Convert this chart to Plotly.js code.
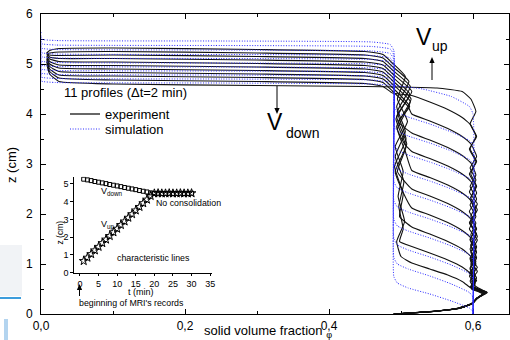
<!DOCTYPE html>
<html><head><meta charset="utf-8">
<script src="https://cdn.plot.ly/plotly-3.0.1.min.js"></script>
<style>html,body{margin:0;padding:0;background:#fff}#c{width:510px;height:340px}</style>
</head><body><div id="c"></div>
<script>
// ---- experimental profiles (phi, z) ----
const expPhi0=[0.008,0.012,0.025,0.10,0.30,0.45,0.475,0.488,0.506,0.495,0.509,0.492,0.503,0.496,0.505,0.494,0.500,0.515,0.54,0.565,0.585,0.597,0.613,0.604,0.598,0.58,0.54,0.49];
const expZ0  =[5.22,5.27,5.31,5.32,5.29,5.25,5.19,5.02,4.75,4.30,3.85,3.35,2.85,2.35,1.85,1.45,1.15,1.02,0.90,0.78,0.65,0.52,0.40,0.29,0.20,0.11,0.05,0.0];
const expPhi1=[0.008,0.012,0.025,0.10,0.30,0.45,0.475,0.488,0.511,0.494,0.506,0.492,0.504,0.497,0.503,0.498,0.515,0.54,0.565,0.585,0.597,0.604,0.596,0.617,0.605,0.599,0.58,0.545,0.49];
const expZ1  =[5.21,5.22,5.24,5.25,5.22,5.18,5.12,4.95,4.65,4.15,3.65,3.15,2.65,2.15,1.70,1.45,1.35,1.22,1.08,0.94,0.80,0.66,0.54,0.43,0.31,0.21,0.12,0.05,0.0];
const expPhi2=[0.008,0.012,0.025,0.10,0.30,0.45,0.475,0.488,0.513,0.495,0.507,0.491,0.503,0.498,0.515,0.54,0.565,0.585,0.597,0.603,0.595,0.605,0.597,0.619,0.606,0.6,0.582,0.545,0.49];
const expZ2  =[5.20,5.18,5.17,5.18,5.15,5.11,5.05,4.88,4.55,4.05,3.50,2.95,2.40,1.95,1.74,1.60,1.45,1.30,1.15,0.98,0.82,0.67,0.54,0.44,0.32,0.22,0.12,0.05,0.0];
const expPhi3=[0.008,0.012,0.025,0.10,0.30,0.45,0.475,0.488,0.515,0.494,0.508,0.492,0.504,0.515,0.54,0.565,0.585,0.597,0.604,0.596,0.606,0.595,0.603,0.598,0.614,0.604,0.598,0.58,0.54,0.49];
const expZ3  =[5.23,5.14,5.11,5.11,5.08,5.04,4.98,4.81,4.45,3.95,3.40,2.85,2.40,2.12,1.98,1.83,1.67,1.52,1.32,1.12,0.93,0.76,0.60,0.50,0.41,0.30,0.21,0.11,0.05,0.0];
const expPhi4=[0.008,0.012,0.025,0.10,0.30,0.45,0.475,0.488,0.512,0.493,0.507,0.495,0.515,0.54,0.565,0.585,0.597,0.605,0.596,0.604,0.597,0.606,0.596,0.602,0.616,0.605,0.599,0.581,0.543,0.49];
const expZ4  =[5.19,5.10,5.05,5.04,5.01,4.97,4.91,4.74,4.40,3.90,3.35,2.85,2.50,2.36,2.21,2.05,1.90,1.70,1.50,1.28,1.05,0.85,0.66,0.52,0.42,0.31,0.21,0.12,0.05,0.0];
const expPhi5=[0.008,0.012,0.025,0.10,0.30,0.45,0.475,0.488,0.514,0.494,0.506,0.515,0.54,0.565,0.585,0.597,0.604,0.595,0.605,0.597,0.604,0.596,0.605,0.598,0.62,0.606,0.6,0.582,0.546,0.49];
const expZ5  =[5.16,5.05,4.98,4.97,4.94,4.90,4.84,4.67,4.30,3.75,3.25,2.87,2.73,2.58,2.42,2.27,2.05,1.82,1.60,1.38,1.15,0.92,0.72,0.55,0.43,0.32,0.22,0.12,0.05,0.0];
const expPhi6=[0.008,0.012,0.025,0.10,0.30,0.45,0.475,0.488,0.513,0.495,0.505,0.515,0.54,0.565,0.585,0.597,0.605,0.596,0.604,0.595,0.606,0.597,0.604,0.596,0.603,0.598,0.615,0.605,0.599,0.58,0.542,0.49];
const expZ6  =[5.13,5.00,4.92,4.90,4.87,4.83,4.77,4.60,4.25,3.70,3.40,3.25,3.11,2.96,2.80,2.65,2.42,2.18,1.95,1.70,1.48,1.24,1.00,0.80,0.62,0.52,0.41,0.30,0.21,0.11,0.05,0.0];
const expPhi7=[0.008,0.012,0.025,0.10,0.30,0.45,0.475,0.488,0.512,0.496,0.515,0.54,0.565,0.585,0.597,0.604,0.596,0.605,0.595,0.604,0.597,0.605,0.596,0.603,0.597,0.604,0.618,0.606,0.6,0.582,0.545,0.49];
const expZ7  =[5.10,4.95,4.85,4.83,4.80,4.76,4.70,4.53,4.15,3.85,3.62,3.48,3.33,3.17,3.02,2.78,2.55,2.30,2.05,1.82,1.58,1.34,1.10,0.88,0.68,0.55,0.43,0.32,0.22,0.12,0.05,0.0];
const expPhi8=[0.008,0.012,0.025,0.10,0.30,0.45,0.475,0.488,0.51,0.515,0.54,0.565,0.585,0.597,0.605,0.596,0.604,0.595,0.606,0.597,0.604,0.596,0.605,0.597,0.603,0.598,0.616,0.605,0.599,0.581,0.544,0.49];
const expZ8  =[5.07,4.90,4.78,4.76,4.73,4.69,4.63,4.46,4.15,4.00,3.86,3.71,3.55,3.40,3.15,2.92,2.68,2.44,2.20,1.96,1.72,1.48,1.24,1.00,0.78,0.58,0.42,0.31,0.21,0.12,0.05,0.0];
const expPhi9=[0.008,0.012,0.025,0.10,0.30,0.45,0.475,0.488,0.515,0.54,0.565,0.585,0.597,0.604,0.596,0.605,0.595,0.604,0.597,0.606,0.596,0.604,0.597,0.605,0.596,0.603,0.598,0.619,0.606,0.6,0.582,0.545,0.49];
const expZ9  =[5.04,4.85,4.72,4.68,4.65,4.61,4.55,4.42,4.37,4.24,4.09,3.93,3.78,3.55,3.30,3.05,2.80,2.56,2.32,2.08,1.84,1.60,1.36,1.12,0.90,0.70,0.55,0.43,0.32,0.22,0.12,0.05,0.0];
const expPhi10=[0.008,0.012,0.025,0.10,0.30,0.45,0.50,0.55,0.585,0.597,0.604,0.596,0.605,0.595,0.604,0.597,0.605,0.596,0.604,0.597,0.606,0.596,0.604,0.597,0.603,0.598,0.615,0.605,0.599,0.58,0.543,0.49];
const expZ10  =[5.00,4.80,4.65,4.60,4.57,4.55,4.54,4.52,4.45,4.30,4.05,3.80,3.55,3.30,3.05,2.80,2.55,2.30,2.05,1.80,1.55,1.30,1.05,0.82,0.65,0.53,0.42,0.31,0.21,0.11,0.05,0.0];

// ---- simulated profiles (phi, z) ----
const simPhi=[0,0,0.02,0.25,0.46,0.485,0.49,0.49,0.495,0.51,0.54,0.57,0.595,0.6,0.6];
const simZ0=[5.64,5.50,5.47,5.46,5.44,5.39,5.27,0.75,0.62,0.52,0.40,0.26,0.12,0.05,0];
const simZ1=[5.55,5.41,5.38,5.37,5.35,5.30,5.18,1.13,1.00,0.90,0.76,0.60,0.43,0.33,0];
const simZ2=[5.46,5.32,5.29,5.28,5.26,5.21,5.09,1.51,1.38,1.28,1.14,0.98,0.81,0.71,0];
const simZ3=[5.37,5.23,5.20,5.19,5.17,5.12,5.00,1.89,1.76,1.66,1.52,1.36,1.19,1.09,0];
const simZ4=[5.29,5.15,5.12,5.11,5.09,5.04,4.92,2.27,2.14,2.04,1.90,1.74,1.57,1.47,0];
const simZ5=[5.20,5.06,5.03,5.02,5.00,4.95,4.83,2.65,2.52,2.42,2.28,2.12,1.95,1.85,0];
const simZ6=[5.12,4.98,4.95,4.94,4.92,4.87,4.75,3.03,2.90,2.80,2.66,2.50,2.33,2.23,0];
const simZ7=[5.04,4.90,4.87,4.86,4.84,4.79,4.67,3.41,3.28,3.18,3.04,2.88,2.71,2.61,0];
const simZ8=[4.96,4.82,4.79,4.78,4.76,4.71,4.59,3.79,3.66,3.56,3.42,3.26,3.09,2.99,0];
const simZ9=[4.88,4.74,4.71,4.70,4.68,4.63,4.51,4.17,4.04,3.94,3.80,3.64,3.47,3.37,0];
const simPhi10=[0,0,0.02,0.25,0.46,0.49,0.53,0.57,0.595,0.6,0.6];
const simZ10=[4.80,4.66,4.63,4.62,4.60,4.57,4.50,4.35,4.15,4.0,0];

// ---- inset: characteristic lines ----
const tMin=[1,2,3,4,5,6,7,8,9,10,11,12,13,14,15,16,17,18,19,20,21,22,23,24,25,26,27,28,29,30];
const zDown=[5.27,5.23,5.19,5.14,5.10,5.06,5.02,4.97,4.93,4.89,4.85,4.80,4.76,4.72,4.68,4.63,4.59,4.55,4.50,4.47,4.48,4.47,4.47,4.48,4.47,4.47,4.48,4.47,4.47,4.48];
const zUp=[0.66,0.85,1.05,1.26,1.46,1.67,1.87,2.07,2.28,2.48,2.69,2.89,3.10,3.30,3.51,3.71,3.92,4.12,4.33,4.47,4.48,4.47,4.47,4.48,4.47,4.47,4.48,4.47,4.47,4.48];

const mainXTicks=[0,0.2,0.4,0.6], mainXMinor=[0.1,0.3,0.5];
const mainYTicks=[0,1,2,3,4,5,6], mainYMinor=[0.5,1.5,2.5,3.5,4.5,5.5];
const insetXTicks=[0,5,10,15,20,25,30,35], insetYTicks=[0,1,2,3,4,5];

const expPhis=[expPhi0,expPhi1,expPhi2,expPhi3,expPhi4,expPhi5,expPhi6,expPhi7,expPhi8,expPhi9,expPhi10];
const expZs=[expZ0,expZ1,expZ2,expZ3,expZ4,expZ5,expZ6,expZ7,expZ8,expZ9,expZ10];
const simPhis=[simPhi,simPhi,simPhi,simPhi,simPhi,simPhi,simPhi,simPhi,simPhi,simPhi,simPhi10];
const simZs=[simZ0,simZ1,simZ2,simZ3,simZ4,simZ5,simZ6,simZ7,simZ8,simZ9,simZ10];

const traces=[];
for(let i=0;i<expPhis.length;i++){
  traces.push({x:expPhis[i],y:expZs[i],type:'scatter',mode:'lines',line:{color:'#111',width:1.1,shape:'spline',smoothing:0.4},hoverinfo:'skip'});
}
for(let i=0;i<simPhis.length;i++){
  traces.push({x:simPhis[i],y:simZs[i],type:'scatter',mode:'lines',line:{color:'#2a2aff',width:1,dash:'1px,1.6px',shape:'spline',smoothing:0.4},hoverinfo:'skip'});
}
traces.push({x:tMin,y:zDown,xaxis:'x2',yaxis:'y2',type:'scatter',mode:'markers',marker:{symbol:'square-open',size:4,color:'#000',line:{width:1}},hoverinfo:'skip'});
traces.push({x:tMin,y:zUp,xaxis:'x2',yaxis:'y2',type:'scatter',mode:'markers',marker:{symbol:'star-open',size:6.5,color:'#000',line:{width:1}},hoverinfo:'skip'});

const L=41,T=14,W=468,H=300;
const px=x=>(x-L)/W, py=y=>(T+H-y)/H;
const FONT='Liberation Sans, Arial, sans-serif';
function txt(s,x,y,size,opt){return Object.assign({text:s,x:px(x),y:py(y),xref:'paper',yref:'paper',showarrow:false,font:{size:size,color:'#000',family:FONT},xanchor:'center',yanchor:'middle'},opt||{});}
// arrow drawn as a shaft + a small filled head (decoration)
function arrowShapes(x,yHead,yTail){
  const dir=yTail>yHead?1:-1, hl=6, hw=2.6;
  return [
    {type:'line',xref:'paper',yref:'paper',x0:px(x),x1:px(x),y0:py(yTail),y1:py(yHead+dir*hl*0.6),line:{color:'#000',width:1}},
    {type:'path',xref:'paper',yref:'paper',path:'M '+px(x)+' '+py(yHead)+' L '+px(x-hw)+' '+py(yHead+dir*hl)+' L '+px(x+hw)+' '+py(yHead+dir*hl)+' Z',fillcolor:'#000',line:{width:0}}
  ];
}

const annotations=[
  txt('11 profiles (Δt=2 min)',125,93,13),
  txt('experiment',103,114,13,{xanchor:'left'}),
  txt('simulation',103,129,13,{xanchor:'left'}),
  txt('V',424,37,23), txt('up',440,46,14),
  txt('V',275,122,23), txt('down',302,133,14),
  txt('solid volume fraction <sub>φ</sub>',268,331,13),
  txt('z (cm)',11,165,13,{textangle:-90}),
  txt('No consolidation',188,203,8.8),
  txt('V<sub>down</sub>',99,191,9,{xanchor:'left'}),
  txt('V<sub>up</sub>',99,225,9,{xanchor:'left'}),
  txt('characteristic lines',153,258,8.8),
  txt('t (min)',141,292,9),
  txt('z (cm)',59.5,233,8.5,{textangle:-90}),
  txt("beginning of MRI's records",131.5,303,8.8)
];

const shapes=[
  {type:'rect',xref:'paper',yref:'paper',x0:px(0),x1:px(22),y0:py(296),y1:py(245),fillcolor:'#f1f3f6',line:{width:0},layer:'below'},
  {type:'line',xref:'paper',yref:'paper',x0:px(0),x1:px(21),y0:py(298),y1:py(298),line:{color:'#3d9ddc',width:2}},
  {type:'rect',xref:'paper',yref:'paper',x0:px(4),x1:px(8),y0:py(340),y1:py(319),fillcolor:'#b3d4ef',line:{width:0}},
  {type:'line',xref:'paper',yref:'paper',x0:px(70),x1:px(100),y0:py(114),y1:py(114),line:{color:'#000',width:1.2}},
  {type:'line',xref:'paper',yref:'paper',x0:px(70),x1:px(100),y0:py(129),y1:py(129),line:{color:'#2a2aff',width:1,dash:'1px,1.6px'}}
].concat(arrowShapes(432,57,80),arrowShapes(277,114,86),arrowShapes(79.5,284,296));

const axBase={showgrid:false,zeroline:false,showline:true,linecolor:'#000',linewidth:1,tickcolor:'#000',tickwidth:1};
const layout={
  width:510,height:340,margin:{l:L,r:1,t:T,b:26,pad:0},
  paper_bgcolor:'#fff',plot_bgcolor:'#fff',showlegend:false,separators:',.',
  font:{family:FONT,color:'#000',size:12},
  xaxis:Object.assign({},axBase,{domain:[0,1],range:[0,0.65],tickvals:mainXTicks,tickformat:'.1f',ticks:'inside',ticklen:5,mirror:'ticks',layer:'below traces',tickfont:{size:12,family:FONT},ticklabelstandoff:1,
    minor:{tickvals:mainXMinor,ticks:'inside',ticklen:3,tickcolor:'#000',showgrid:false}}),
  yaxis:Object.assign({},axBase,{domain:[0,1],range:[0,6],tickvals:mainYTicks,ticks:'inside',ticklen:5,mirror:'ticks',layer:'below traces',tickfont:{size:12,family:FONT},ticklabelstandoff:5,
    minor:{tickvals:mainYMinor,ticks:'inside',ticklen:3,tickcolor:'#000',showgrid:false}}),
  xaxis2:Object.assign({},axBase,{domain:[px(74.4),px(212)],anchor:'y2',range:[-1.5,35.5],tickvals:insetXTicks,ticks:'outside',ticklen:2,tickfont:{size:9,family:FONT}}),
  yaxis2:Object.assign({},axBase,{domain:[py(272.7),py(176.7)],anchor:'x2',range:[0,5.41],tickvals:insetYTicks,ticks:'outside',ticklen:3,tickfont:{size:9,family:FONT}}),
  annotations:annotations,shapes:shapes
};
Plotly.newPlot('c',traces,layout,{staticPlot:true,displayModeBar:false});
</script></body></html>
